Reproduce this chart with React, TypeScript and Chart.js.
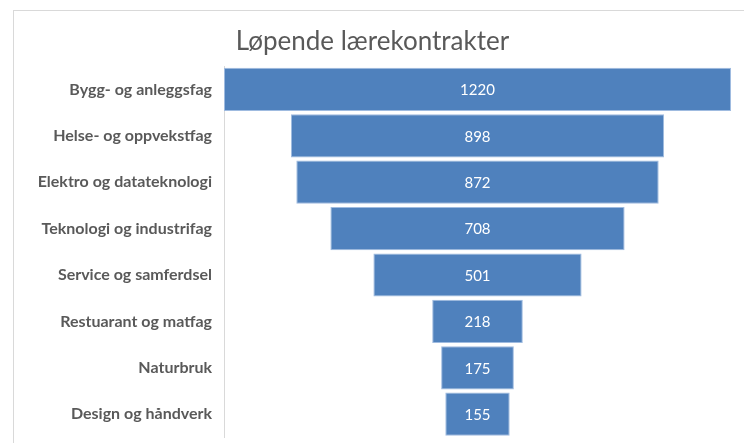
import React, { useEffect, useRef } from "react";
import { Chart, registerables } from "chart.js";

Chart.register(...registerables);

const categories = [
  "Bygg- og anleggsfag",
  "Helse- og oppvekstfag",
  "Elektro og datateknologi",
  "Teknologi og industrifag",
  "Service og samferdsel",
  "Restuarant og matfag",
  "Naturbruk",
  "Design og håndverk",
];
const values = [1220, 898, 872, 708, 501, 218, 175, 155];
const title = "Løpende lærekontrakter";

const FONT = "Lato, 'Open Sans', sans-serif";

const valueLabels = {
  id: "valueLabels",
  afterDatasetsDraw(chart: any) {
    const ctx = chart.ctx;
    const meta = chart.getDatasetMeta(0);
    ctx.save();
    ctx.fillStyle = "#ffffff";
    ctx.font = `15px ${FONT}`;
    ctx.textAlign = "center";
    ctx.textBaseline = "middle";
    meta.data.forEach((el: any, i: number) => {
      const cx = (el.x + el.base) / 2;
      ctx.fillText(String(values[i]), cx, el.y + 1);
    });
    ctx.restore();
  },
};

export default function App() {
  const ref = useRef<HTMLCanvasElement | null>(null);
  useEffect(() => {
    if (!ref.current) return;
    const half = Math.max(...values) / 2;
    const chart = new Chart(ref.current, {
      type: "bar",
      data: {
        labels: categories,
        datasets: [
          {
            data: values.map((v) => [-v / 2, v / 2]) as any,
            backgroundColor: "#4F81BD",
            borderColor: "#9fbbe0",
            borderWidth: 1,
            borderSkipped: false,
            barPercentage: 1,
            categoryPercentage: 0.93,
          },
        ],
      },
      options: {
        indexAxis: "y",
        animation: false,
        responsive: false,
        maintainAspectRatio: false,
        layout: { padding: { left: 0, right: 13, top: 0, bottom: 5.6 } },
        plugins: {
          legend: { display: false },
          tooltip: { enabled: false },
          title: {
            display: true,
            text: title,
            color: "#595959",
            font: { family: FONT, size: 26, weight: "normal" },
            padding: { top: 15, bottom: 9 },
          },
        },
        scales: {
          x: { display: false, min: -half, max: half },
          y: {
            grid: { display: false, drawTicks: false },
            border: { display: true, color: "#d9d9d9", width: 1 },
            ticks: {
              color: "#595959",
              padding: 12,
              font: { family: FONT, size: 16, weight: "bold" },
            },
            afterFit(scale: any) {
              scale.width = 210;
              scale.paddingTop = 0;
              scale.paddingBottom = 0;
            },
          },
        },
      },
      plugins: [valueLabels],
    });
    return () => chart.destroy();
  }, []);
  return (
    <div
      style={{
        position: "fixed",
        left: 13,
        top: 10,
        width: 731,
        height: 433,
        borderLeft: "1px solid #d9d9d9",
        borderTop: "1px solid #d9d9d9",
        background: "#fff",
      }}
    >
      <canvas ref={ref} width={730} height={432} style={{ display: "block" }} />
    </div>
  );
}
